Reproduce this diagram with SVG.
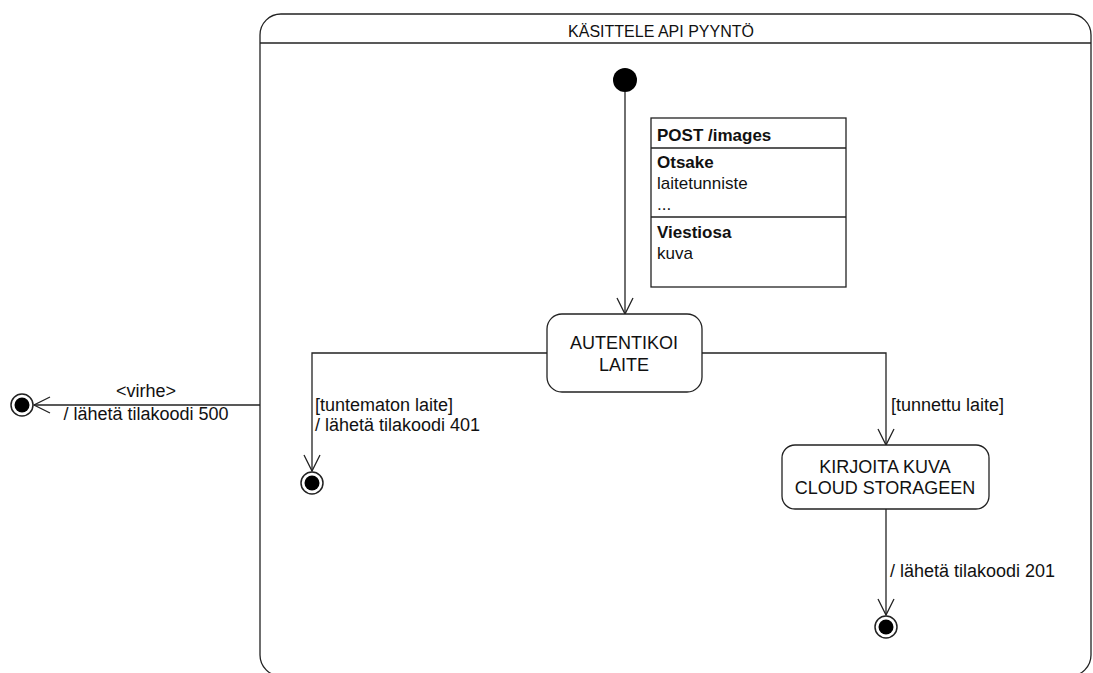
<svg xmlns="http://www.w3.org/2000/svg" width="1093" height="673" viewBox="0 0 1093 673">
  <defs>
    <marker id="open" viewBox="0 0 20 20" refX="17" refY="10" markerWidth="20" markerHeight="20" markerUnits="userSpaceOnUse" orient="auto">
      <path d="M1,2 L17,10 L1,18" fill="none" stroke="#222" stroke-width="1.3"/>
    </marker>
  </defs>
  <style>
    .line { fill: none; stroke: #222; stroke-width: 1.3; }
    .box { fill: #fff; stroke: #222; stroke-width: 1.3; }
    .txt { font-family: "Liberation Sans", Arial, sans-serif; fill: #111; }
    .lbl { font-size: 18px; }
    .st { font-size: 18px; text-anchor: middle; }
    .note { font-size: 17px; }
    .b { font-weight: bold; }
  </style>
  <rect width="1093" height="673" fill="#fff"/>

  <!-- composite state -->
  <g id="kasittele-api-pyynto">
    <rect class="box" x="260" y="14" width="831" height="662" rx="21" ry="21"/>
    <line class="line" x1="260" y1="43" x2="1091" y2="43"/>
    <text class="txt" x="661" y="37" font-size="16" text-anchor="middle">KÄSITTELE API PYYNTÖ</text>
  </g>

  <!-- connectors -->
  <g id="connectors">
    <line class="line" x1="625" y1="92" x2="625" y2="314" marker-end="url(#open)"/>
    <polyline class="line" points="547,353 312,353 312,471" marker-end="url(#open)"/>
    <polyline class="line" points="702,353 886,353 886,445" marker-end="url(#open)"/>
    <line class="line" x1="886" y1="509" x2="886" y2="615" marker-end="url(#open)"/>
    <line class="line" x1="260" y1="405" x2="34" y2="405" marker-end="url(#open)"/>
    <text class="txt lbl" x="315" y="411">[tuntematon laite]</text>
    <text class="txt lbl" x="315" y="431">/ lähetä tilakoodi 401</text>
    <text class="txt lbl" x="891" y="411">[tunnettu laite]</text>
    <text class="txt lbl" x="890" y="577">/ lähetä tilakoodi 201</text>
    <text class="txt lbl" x="146" y="397" text-anchor="middle">&lt;virhe&gt;</text>
    <text class="txt lbl" x="146" y="420" text-anchor="middle">/ lähetä tilakoodi 500</text>
  </g>

  <!-- initial state -->
  <g id="start">
    <circle cx="625" cy="80" r="12" fill="#000"/>
  </g>

  <!-- request note -->
  <g id="post-images">
    <rect class="box" x="651" y="118" width="195" height="169"/>
    <line class="line" x1="651" y1="148" x2="846" y2="148"/>
    <line class="line" x1="651" y1="217" x2="846" y2="217"/>
    <text class="txt note b" x="657" y="141">POST /images</text>
    <text class="txt note b" x="657" y="168">Otsake</text>
    <text class="txt note" x="657" y="189">laitetunniste</text>
    <text class="txt note" x="657" y="210">...</text>
    <text class="txt note b" x="657" y="238">Viestiosa</text>
    <text class="txt note" x="657" y="259">kuva</text>
  </g>

  <g id="autentikoi-laite">
    <rect class="box" x="547" y="314" width="155" height="78" rx="15" ry="15"/>
    <text class="txt st" x="624" y="349">AUTENTIKOI</text>
    <text class="txt st" x="624" y="371">LAITE</text>
  </g>

  <g id="kirjoita-kuva">
    <rect class="box" x="782" y="445" width="207" height="64" rx="13" ry="13"/>
    <text class="txt st" x="885" y="473">KIRJOITA KUVA</text>
    <text class="txt st" x="885" y="494">CLOUD STORAGEEN</text>
  </g>

  <!-- final states -->
  <g id="end-401">
    <circle cx="312" cy="483" r="11" fill="#fff" stroke="#222" stroke-width="1.5"/>
    <circle cx="312" cy="483" r="7.5" fill="#000"/>
  </g>
  <g id="end-201">
    <circle cx="886" cy="627" r="11" fill="#fff" stroke="#222" stroke-width="1.5"/>
    <circle cx="886" cy="627" r="7.5" fill="#000"/>
  </g>
  <g id="end-500">
    <circle cx="22" cy="405" r="11" fill="#fff" stroke="#222" stroke-width="1.5"/>
    <circle cx="22" cy="405" r="7.5" fill="#000"/>
  </g>
</svg>
